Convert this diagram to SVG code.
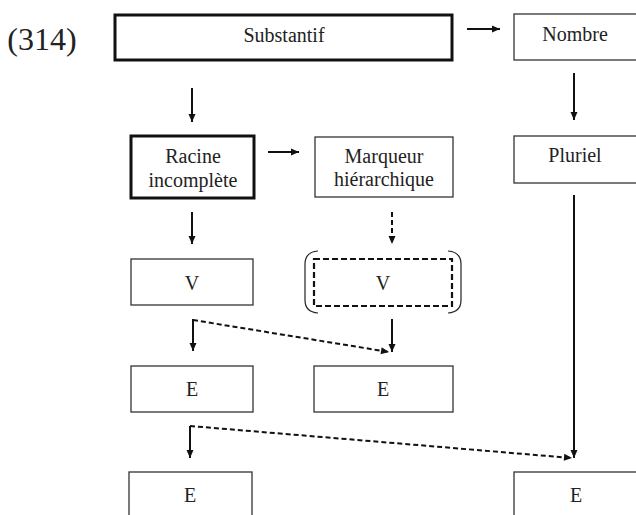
<svg xmlns="http://www.w3.org/2000/svg" width="636" height="515" viewBox="0 0 636 515">
<style>
text{font-family:"Liberation Serif","Times New Roman",serif;font-size:20px;fill:#222;text-anchor:middle}
.thin{fill:#fff;stroke:#333;stroke-width:1.3}
.thick{fill:#fff;stroke:#111;stroke-width:3}
.dbox{fill:none;stroke:#111;stroke-width:2.2;stroke-dasharray:6,3}
.ln{stroke:#111;stroke-width:2;fill:none}
.dl{stroke:#111;stroke-width:2;fill:none;stroke-dasharray:5,3}
.br{stroke:#222;stroke-width:1.2;fill:none}
</style>
<defs>
<marker id="ah" markerUnits="userSpaceOnUse" markerWidth="10" markerHeight="10" viewBox="0 0 10 10" refX="9" refY="5" orient="auto">
<path d="M1,1.5 L9,5 L1,8.5 Z" fill="#111"/>
</marker>
</defs>
<text x="42" y="50" style="font-size:32px;text-anchor:middle">(314)</text>
<g id="substantif"><rect class="thick" x="115" y="15" width="337" height="45"/><text x="284" y="42">Substantif</text></g>
<g id="nombre"><rect class="thin" x="514" y="14" width="124" height="46"/><text x="575" y="41">Nombre</text></g>
<g id="racine"><rect class="thick" x="131" y="136" width="123" height="62"/><text x="193" y="163">Racine</text><text x="193" y="187">incomplète</text></g>
<g id="marqueur"><rect class="thin" x="315" y="137" width="138" height="60"/><text x="384" y="163">Marqueur</text><text x="384" y="186">hiérarchique</text></g>
<g id="pluriel"><rect class="thin" x="514" y="136" width="124" height="47"/><text x="575" y="162">Pluriel</text></g>
<g id="v1"><rect class="thin" x="131" y="259" width="122" height="46"/><text x="192" y="290">V</text></g>
<g id="v2"><rect class="dbox" x="314" y="259" width="138" height="47"/><path class="br" d="M318,251 Q305,252 305,264 L305,300 Q305,312 318,313"/><path class="br" d="M448,251 Q461,252 461,264 L461,300 Q461,312 448,313"/><text x="383" y="290">V</text></g>
<g id="e1"><rect class="thin" x="131" y="366" width="122" height="46"/><text x="192" y="396">E</text></g>
<g id="e2"><rect class="thin" x="314" y="366" width="139" height="46"/><text x="383" y="396">E</text></g>
<g id="e3"><rect class="thin" x="129" y="472" width="123" height="50"/><text x="190" y="502">E</text></g>
<g id="e4"><rect class="thin" x="514" y="472" width="124" height="50"/><text x="576" y="502">E</text></g>
<g id="connectors">
<line class="ln" x1="467" y1="29" x2="500" y2="29" marker-end="url(#ah)"/>
<line class="ln" x1="192" y1="88" x2="192" y2="122" marker-end="url(#ah)"/>
<line class="ln" x1="574" y1="73" x2="574" y2="120" marker-end="url(#ah)"/>
<line class="ln" x1="268" y1="152" x2="299" y2="152" marker-end="url(#ah)"/>
<line class="ln" x1="192" y1="212" x2="192" y2="244" marker-end="url(#ah)"/>
<line class="dl" x1="392" y1="212" x2="392" y2="244" marker-end="url(#ah)"/>
<line class="ln" x1="193" y1="319" x2="193" y2="351" marker-end="url(#ah)"/>
<line class="dl" x1="193" y1="320" x2="389" y2="352" marker-end="url(#ah)"/>
<line class="ln" x1="392" y1="319" x2="392" y2="352" marker-end="url(#ah)"/>
<line class="ln" x1="190" y1="426" x2="190" y2="458" marker-end="url(#ah)"/>
<line class="dl" x1="190" y1="426" x2="572" y2="458" marker-end="url(#ah)"/>
<line class="ln" x1="574" y1="195" x2="574" y2="458" marker-end="url(#ah)"/>
</g>
</svg>
